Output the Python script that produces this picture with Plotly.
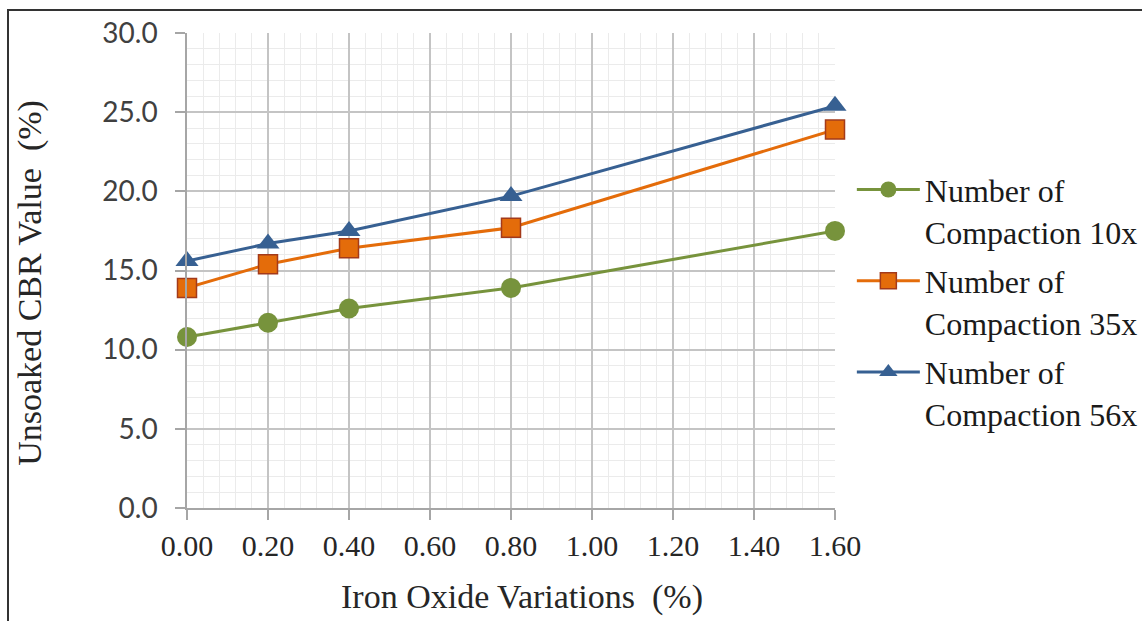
import plotly.graph_objects as go

# Iron oxide content (%) and unsoaked CBR values (%) for each compaction effort
iron_oxide = [0.00, 0.20, 0.40, 0.80, 1.60]
cbr_10x = [10.8, 11.7, 12.6, 13.9, 17.5]
cbr_35x = [13.9, 15.4, 16.4, 17.7, 23.9]
cbr_56x = [15.6, 16.7, 17.5, 19.7, 25.4]

series_names = [
    "Number of<br>Compaction 10x",
    "Number of<br>Compaction 35x",
    "Number of<br>Compaction 56x",
]

x_ticks = [0.0, 0.2, 0.4, 0.6, 0.8, 1.0, 1.2, 1.4, 1.6]
x_tick_labels = ["0.00", "0.20", "0.40", "0.60", "0.80", "1.00", "1.20", "1.40", "1.60"]
y_ticks = [0, 5, 10, 15, 20, 25, 30]
y_tick_labels = ["0.0", "5.0", "10.0", "15.0", "20.0", "25.0", "30.0"]

SERIF = "Liberation Serif, Times New Roman, serif"
SANS = "Lato, Liberation Sans, sans-serif"

fig = go.Figure()

styles = [
    dict(color="#77933c", symbol="circle", size=20, lc="#77933c", lw=0),
    dict(color="#e46c0a", symbol="square", size=19, lc="#a33a1a", lw=1.5),
    dict(color="#376092", symbol="triangle-up", size=20, lc="#376092", lw=0),
]

for i, (ys, name, st) in enumerate(zip([cbr_10x, cbr_35x, cbr_56x], series_names, styles)):
    fig.add_trace(
        go.Scatter(
            x=iron_oxide,
            y=ys,
            name=name,
            legendgroup=f"g{i}",
            mode="lines+markers",
            cliponaxis=False,
            line=dict(color=st["color"], width=3),
            marker=dict(
                symbol=st["symbol"],
                size=st["size"],
                color=st["color"],
                line=dict(color=st["lc"], width=st["lw"]),
            ),
        )
    )

fig.update_layout(
    width=1142,
    height=621,
    margin=dict(l=187, r=307, t=33, b=113, autoexpand=False),
    paper_bgcolor="white",
    plot_bgcolor="white",
    showlegend=True,
    legend=dict(
        x=1.026,
        y=0.728,
        xanchor="left",
        yanchor="top",
        font=dict(family=SERIF, size=32, color="#1a1a1a"),
        itemwidth=63,
        valign="top",
        tracegroupgap=5,
        bgcolor="rgba(0,0,0,0)",
    ),
    xaxis=dict(
        range=[0, 1.6],
        tickvals=x_ticks,
        ticktext=x_tick_labels,
        tickfont=dict(family=SERIF, size=30, color="#262626"),
        showline=True,
        linecolor="#a6a6a6",
        linewidth=1.5,
        ticks="outside",
        ticklen=10,
        tickcolor="#a6a6a6",
        tickwidth=1.5,
        showgrid=True,
        gridcolor="#c4c4c4",
        gridwidth=1.5,
        minor=dict(dtick=0.04, showgrid=True, gridcolor="#ebebeb", gridwidth=1),
        zeroline=False,
    ),
    yaxis=dict(
        range=[0, 30],
        tickvals=y_ticks,
        ticktext=y_tick_labels,
        tickfont=dict(family=SANS, size=28, color="#404040"),
        ticklabelstandoff=12,
        showline=True,
        linecolor="#a6a6a6",
        linewidth=1.5,
        ticks="outside",
        ticklen=10,
        tickcolor="#a6a6a6",
        tickwidth=1.5,
        showgrid=True,
        gridcolor="#c4c4c4",
        gridwidth=1.5,
        minor=dict(dtick=1, showgrid=True, gridcolor="#ebebeb", gridwidth=1),
        zeroline=False,
    ),
)

# Axis titles
fig.add_annotation(
    text="Iron Oxide Variations  (%)",
    xref="paper", yref="paper",
    x=0.517, y=-0.187,
    xanchor="center", yanchor="middle",
    showarrow=False,
    font=dict(family=SERIF, size=34, color="#262626"),
)
fig.add_annotation(
    text="Unsoaked CBR Value  (%)",
    xref="paper", yref="paper",
    x=-0.2423, y=0.474,
    xanchor="center", yanchor="middle",
    textangle=-90,
    showarrow=False,
    font=dict(family=SERIF, size=34, color="#262626"),
)

# Frame around the chart (top and left edges fall inside the page)
fig.add_shape(
    type="rect",
    xref="paper",
    yref="paper",
    x0=(8 - 187) / 648,
    x1=(1160 - 187) / 648,
    y0=(508 - 640) / 475,
    y1=(508 - 10) / 475,
    line=dict(color="#333333", width=2),
    fillcolor="rgba(0,0,0,0)",
    layer="above",
)

fig.write_html("out.html")
